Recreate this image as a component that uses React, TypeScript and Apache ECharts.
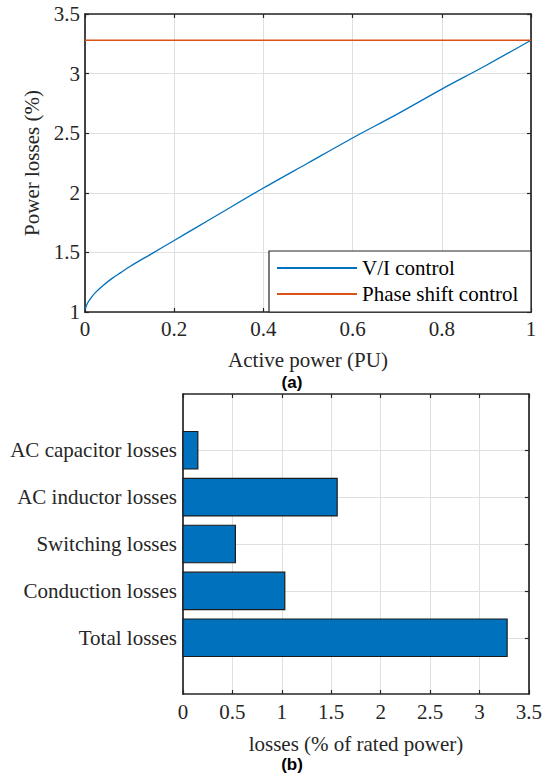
import React, { useEffect, useRef } from 'react';
import * as echarts from 'echarts';

// ---- Panel (a): power losses vs active power ----
const powerPU = [0, 0.005, 0.01, 0.02, 0.04, 0.06, 0.08, 0.1, 0.15, 0.2, 0.25, 0.3, 0.4, 0.5, 0.6, 0.7, 0.8, 0.9, 1.0];
const viControlLosses = [1.02, 1.07, 1.1, 1.15, 1.22, 1.28, 1.33, 1.38, 1.49, 1.6, 1.71, 1.82, 2.04, 2.25, 2.46, 2.66, 2.87, 3.07, 3.28];
const phaseShiftPU = [0, 1];
const phaseShiftLosses = [3.28, 3.28];
const seriesNamesA = ['V/I control', 'Phase shift control'];

// ---- Panel (b): loss breakdown ----
const lossCategories = ['Total losses', 'Conduction losses', 'Switching losses', 'AC inductor losses', 'AC capacitor losses'];
const lossValues = [3.28, 1.03, 0.53, 1.56, 0.15];
const categoryPositions = [1, 2, 3, 4, 5];

const SERIF = 'Liberation Serif';
const SANS = 'Liberation Sans';
const AX = '#262626';
const GRID = '#dfdfdf';
const BLUE = '#0072BD';
const ORANGE = '#D95319';

export default function App() {
  const ref = useRef<HTMLDivElement>(null);
  useEffect(() => {
    document.body.style.margin = '0';
    const chart = echarts.init(ref.current!, null, { renderer: 'svg' });
    const label = { fontFamily: SERIF, fontSize: 21, color: AX };
    const axisLine = { show: true, onZero: false, lineStyle: { color: AX, width: 1.7 } };
    const tick = { show: true, inside: true, length: 4, lineStyle: { color: AX, width: 1.2 } };
    const split = { show: true, lineStyle: { color: GRID, width: 1 } };

    const option: any = {
      animation: false,
      color: [BLUE, ORANGE],
      textStyle: { fontFamily: SERIF },
      grid: [
        { left: 85, top: 14, width: 446, height: 298 },
        { left: 183, top: 394, width: 348, height: 300 },
      ],
      xAxis: [
        {
          type: 'value', gridIndex: 0, position: 'bottom', min: 0, max: 1, interval: 0.2,
          axisLine, axisTick: tick, splitLine: split,
          axisLabel: { ...label, margin: 6 },
          name: 'Active power (PU)', nameLocation: 'middle', nameGap: 37,
          nameTextStyle: { ...label },
        },
        {
          type: 'value', gridIndex: 0, position: 'top', min: 0, max: 1, interval: 0.2,
          axisLine, axisTick: tick, splitLine: { show: false }, axisLabel: { show: false },
        },
        {
          type: 'value', gridIndex: 1, position: 'bottom', min: 0, max: 3.5, interval: 0.5,
          axisLine, axisTick: tick, splitLine: split,
          axisLabel: { ...label, margin: 7 },
          name: 'losses (% of rated power)', nameLocation: 'middle', nameGap: 39,
          nameTextStyle: { ...label },
        },
        {
          type: 'value', gridIndex: 1, position: 'top', min: 0, max: 3.5, interval: 0.5,
          axisLine, axisTick: tick, splitLine: { show: false }, axisLabel: { show: false },
        },
      ],
      yAxis: [
        {
          type: 'value', gridIndex: 0, position: 'left', min: 1, max: 3.5, interval: 0.5,
          axisLine, axisTick: tick, splitLine: split,
          axisLabel: { ...label, margin: 5 },
          name: 'Power losses (%)', nameLocation: 'middle', nameGap: 34,
          nameTextStyle: { ...label },
        },
        {
          type: 'value', gridIndex: 0, position: 'right', min: 1, max: 3.5, interval: 0.5,
          axisLine, axisTick: tick, splitLine: { show: false }, axisLabel: { show: false },
        },
        {
          type: 'value', gridIndex: 1, position: 'left', min: -0.2, max: 6.2,
          axisLine,
          axisTick: { ...tick, customValues: categoryPositions },
          splitLine: split,
          axisLabel: {
            ...label, margin: 6, customValues: categoryPositions,
            formatter: (v: number) => lossCategories[Math.round(v) - 1] ?? '',
          },
        },
        {
          type: 'value', gridIndex: 1, position: 'right', min: -0.2, max: 6.2,
          axisLine,
          axisTick: { ...tick, customValues: categoryPositions },
          splitLine: { show: false }, axisLabel: { show: false },
        },
      ],
      legend: {
        data: seriesNamesA,
        orient: 'vertical', left: 277, top: 257, padding: 0,
        icon: 'rect', itemWidth: 80, itemHeight: 2, itemGap: 4,
        textStyle: { fontFamily: SERIF, fontSize: 21, color: '#000', lineHeight: 22 },
      },
      graphic: [
        {
          type: 'rect', z: 3, silent: true,
          shape: { x: 269, y: 251, width: 262, height: 61 },
          style: { fill: '#fff', stroke: AX, lineWidth: 1.2 },
        },
        {
          type: 'text', x: 292, y: 382, z: 5,
          style: { text: '(a)', fontFamily: SANS, fontWeight: 'bold', fontSize: 17, fill: '#000', textAlign: 'center', textVerticalAlign: 'middle' },
        },
        {
          type: 'text', x: 292, y: 764, z: 5,
          style: { text: '(b)', fontFamily: SANS, fontWeight: 'bold', fontSize: 17, fill: '#000', textAlign: 'center', textVerticalAlign: 'middle' },
        },
      ],
      series: [
        {
          name: seriesNamesA[0], type: 'line', xAxisIndex: 0, yAxisIndex: 0,
          data: powerPU.map((p, i) => [p, viControlLosses[i]]),
          showSymbol: false, symbol: 'none', smooth: 0.3,
          lineStyle: { color: BLUE, width: 1.3 }, itemStyle: { color: BLUE },
        },
        {
          name: seriesNamesA[1], type: 'line', xAxisIndex: 0, yAxisIndex: 0,
          data: phaseShiftPU.map((p, i) => [p, phaseShiftLosses[i]]),
          showSymbol: false, symbol: 'none',
          lineStyle: { color: ORANGE, width: 1.5 }, itemStyle: { color: ORANGE },
        },
        {
          name: 'losses', type: 'custom', xAxisIndex: 2, yAxisIndex: 2,
          data: lossValues.map((v, i) => [v, categoryPositions[i]]),
          encode: { x: 0, y: 1 },
          renderItem: (params: any, api: any) => {
            const v = api.value(0);
            const k = api.value(1);
            const p0 = api.coord([0, k + 0.4]);
            const p1 = api.coord([v, k - 0.4]);
            return {
              type: 'rect',
              shape: { x: p0[0], y: p0[1], width: p1[0] - p0[0], height: p1[1] - p0[1] },
              style: { fill: BLUE, stroke: '#1a1a1a', lineWidth: 1.2 },
            };
          },
        },
      ],
    };
    chart.setOption(option);
    return () => chart.dispose();
  }, []);
  return <div ref={ref} style={{ width: 545, height: 775 }} />;
}
